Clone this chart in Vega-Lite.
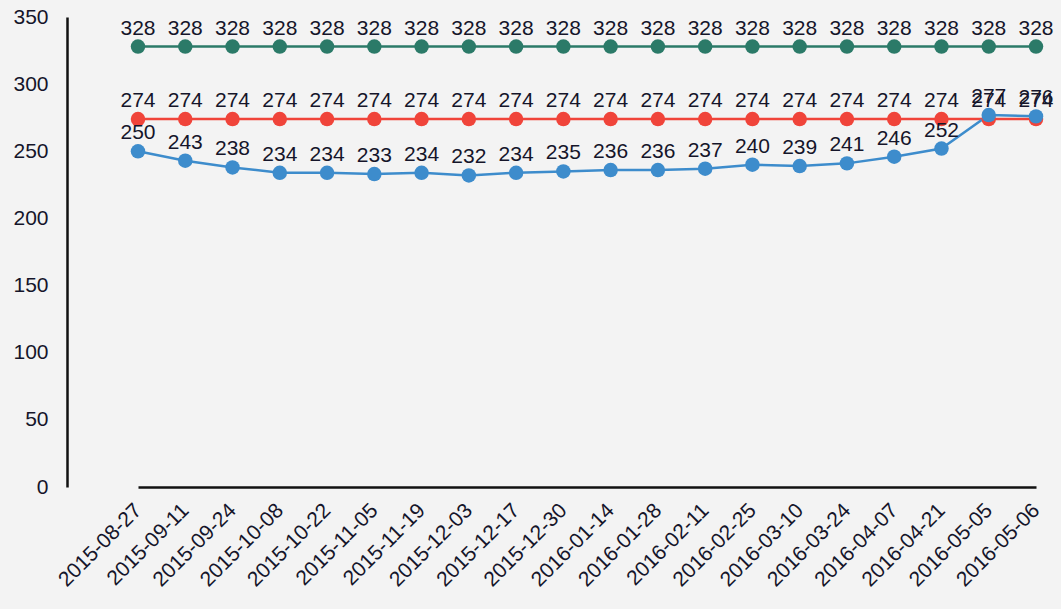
{
  "$schema": "https://vega.github.io/schema/vega-lite/v6.json",
  "width": 994,
  "height": 470,
  "autosize": "none",
  "padding": {"left": 67, "top": 17, "right": 0, "bottom": 122},
  "background": "#f3f3f3",
  "config": {"view": {"stroke": null}, "font": "Liberation Sans"},
  "data": {"values": [
    {"date":"2015-08-27","s":"a","v":328},{"date":"2015-09-11","s":"a","v":328},{"date":"2015-09-24","s":"a","v":328},{"date":"2015-10-08","s":"a","v":328},{"date":"2015-10-22","s":"a","v":328},{"date":"2015-11-05","s":"a","v":328},{"date":"2015-11-19","s":"a","v":328},{"date":"2015-12-03","s":"a","v":328},{"date":"2015-12-17","s":"a","v":328},{"date":"2015-12-30","s":"a","v":328},{"date":"2016-01-14","s":"a","v":328},{"date":"2016-01-28","s":"a","v":328},{"date":"2016-02-11","s":"a","v":328},{"date":"2016-02-25","s":"a","v":328},{"date":"2016-03-10","s":"a","v":328},{"date":"2016-03-24","s":"a","v":328},{"date":"2016-04-07","s":"a","v":328},{"date":"2016-04-21","s":"a","v":328},{"date":"2016-05-05","s":"a","v":328},{"date":"2016-05-06","s":"a","v":328},
    {"date":"2015-08-27","s":"b","v":274},{"date":"2015-09-11","s":"b","v":274},{"date":"2015-09-24","s":"b","v":274},{"date":"2015-10-08","s":"b","v":274},{"date":"2015-10-22","s":"b","v":274},{"date":"2015-11-05","s":"b","v":274},{"date":"2015-11-19","s":"b","v":274},{"date":"2015-12-03","s":"b","v":274},{"date":"2015-12-17","s":"b","v":274},{"date":"2015-12-30","s":"b","v":274},{"date":"2016-01-14","s":"b","v":274},{"date":"2016-01-28","s":"b","v":274},{"date":"2016-02-11","s":"b","v":274},{"date":"2016-02-25","s":"b","v":274},{"date":"2016-03-10","s":"b","v":274},{"date":"2016-03-24","s":"b","v":274},{"date":"2016-04-07","s":"b","v":274},{"date":"2016-04-21","s":"b","v":274},{"date":"2016-05-05","s":"b","v":274},{"date":"2016-05-06","s":"b","v":274},
    {"date":"2015-08-27","s":"c","v":250},{"date":"2015-09-11","s":"c","v":243},{"date":"2015-09-24","s":"c","v":238},{"date":"2015-10-08","s":"c","v":234},{"date":"2015-10-22","s":"c","v":234},{"date":"2015-11-05","s":"c","v":233},{"date":"2015-11-19","s":"c","v":234},{"date":"2015-12-03","s":"c","v":232},{"date":"2015-12-17","s":"c","v":234},{"date":"2015-12-30","s":"c","v":235},{"date":"2016-01-14","s":"c","v":236},{"date":"2016-01-28","s":"c","v":236},{"date":"2016-02-11","s":"c","v":237},{"date":"2016-02-25","s":"c","v":240},{"date":"2016-03-10","s":"c","v":239},{"date":"2016-03-24","s":"c","v":241},{"date":"2016-04-07","s":"c","v":246},{"date":"2016-04-21","s":"c","v":252},{"date":"2016-05-05","s":"c","v":277},{"date":"2016-05-06","s":"c","v":276}
  ]},
  "encoding": {
    "x": {"field": "date", "type": "ordinal", "sort": null,
      "scale": {"type": "point", "range": [71, 969], "padding": 0},
      "axis": {"title": null, "labelAngle": -45, "labelAlign": "right", "labelBaseline": "middle", "labelPadding": 20, "ticks": false, "domainColor": "#111", "domainWidth": 2.5, "labelFontSize": 21, "labelColor": "#15152a", "labelFont": "Liberation Sans", "labelOverlap": false}},
    "y": {"field": "v", "type": "quantitative",
      "scale": {"domain": [0, 350], "nice": false},
      "axis": {"title": null, "values": [0,50,100,150,200,250,300,350], "grid": false, "ticks": false, "domainColor": "#111", "domainWidth": 2.5, "labelPadding": 19, "labelFontSize": 21, "labelColor": "#15152a", "labelFont": "Liberation Sans"}},
    "color": {"field": "s", "type": "nominal", "legend": null,
      "scale": {"domain": ["a","b","c"], "range": ["#2b7a68", "#f0443a", "#3d8ccc"]}}
  },
  "layer": [
    {"mark": {"type": "line", "strokeWidth": 2.5}},
    {"mark": {"type": "circle", "size": 210, "opacity": 1}},
    {"mark": {"type": "text", "dy": -18, "fontSize": 21, "font": "Liberation Sans"},
     "encoding": {"text": {"field": "v", "type": "quantitative"}, "color": {"value": "#15152a"}}}
  ]
}
